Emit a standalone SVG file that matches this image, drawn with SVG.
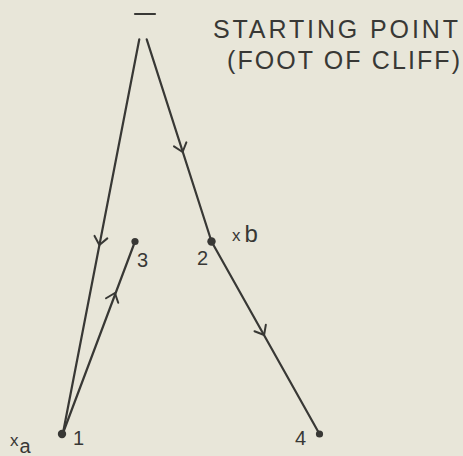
<svg xmlns="http://www.w3.org/2000/svg" width="463" height="456" viewBox="0 0 463 456">
<defs>
<style>
.ln{fill:none;stroke:#383835;stroke-width:2.2;stroke-linecap:round;stroke-linejoin:round}
.ch{fill:none;stroke:#383835;stroke-width:2;stroke-linecap:round;stroke-linejoin:round}
.dot{fill:#383835}
.t{font-family:"Liberation Sans","DejaVu Sans",sans-serif;fill:#383835}
.big{font-size:25px}
.num{font-size:20px}
</style>
<path id="chev" d="M-8,-6.5 L0,0 L-8,6.5"/>
</defs>
<rect x="0" y="0" width="463" height="456" fill="#e8e6d9"/>
<g id="connectors">
<path class="ln" d="M139.3,39.3 L63,433"/>
<path class="ln" d="M146.7,39.3 L211.5,241.5 L319.5,434"/>
<path class="ln" d="M63,433 L135,241.5"/>
<use href="#chev" class="ch" transform="translate(99.4,245) rotate(101)"/>
<use href="#chev" class="ch" transform="translate(182.6,152) rotate(72.3)"/>
<use href="#chev" class="ch" transform="translate(264.1,335) rotate(60.5)"/>
<use href="#chev" class="ch" transform="translate(114.9,293) rotate(-69.7)"/>
</g>
<g id="start">
<line class="ln" x1="135" y1="14" x2="155" y2="14" stroke-width="2.6"/>
<text class="t big" x="213" y="38" textLength="245" lengthAdjust="spacing">STARTING POINT</text>
<text class="t big" x="227" y="69" textLength="233" lengthAdjust="spacing">(FOOT OF CLIFF)</text>
</g>
<g id="node-1">
<circle class="dot" cx="62" cy="434" r="4.2"/>
<text class="t num" x="73" y="445">1</text>
</g>
<g id="node-2">
<circle class="dot" cx="211.5" cy="241.5" r="4.2"/>
<text class="t num" x="197" y="265">2</text>
</g>
<g id="node-3">
<circle class="dot" cx="135" cy="241.5" r="3.6"/>
<text class="t num" x="137" y="267">3</text>
</g>
<g id="node-4">
<circle class="dot" cx="319.5" cy="434" r="3.6"/>
<text class="t num" x="295" y="445">4</text>
</g>
<g id="mark-a">
<text class="t" x="10" y="446" font-size="17">x<tspan font-size="20" dx="1" dy="7">a</tspan></text>
</g>
<g id="mark-b">
<text class="t" x="232" y="241" font-size="17">x<tspan font-size="24" dx="4" dy="1">b</tspan></text>
</g>
</svg>
